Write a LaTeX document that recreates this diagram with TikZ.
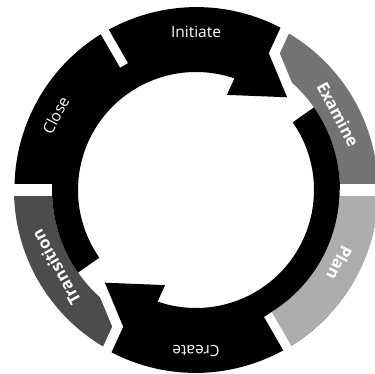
\documentclass[tikz,border=0pt]{standalone}
\usepackage{fontspec}
\setmainfont{Open Sans}
\usepackage{tikz}
\newcommand{\cyclearrow}{(215:118) arc[start angle=215, end angle=71, radius=118]
  -- (72:100) -- (45.5:130) -- (62:155) -- (62.5:183)
  arc[start angle=62.5, end angle=180, radius=182]
  -- (180:144) arc[start angle=180, end angle=215, radius=144] -- cycle}
\newcommand{\headedge}{(62.5:200) -- (62.5:183) -- (62:155) -- (45.5:130)}
\tikzset{
  segexam/.style={fill=black!55},
  segplan/.style={fill=black!32},
  segtrans/.style={fill=black!70},
  headgap/.style={draw=white, line width=20pt, line join=round},
  gapbar/.style={fill=white},
  lbl/.style={font=\fontsize{15.5}{18}\selectfont, text=white, inner sep=0pt},
  lblb/.style={lbl, font=\bfseries\fontsize{16.5}{19}\selectfont},
}

\begin{document}
\begin{tikzpicture}[x=1pt, y=1pt]
  \useasboundingbox (-196,-184) rectangle (179,190);
  \clip (-196,-184) rectangle (179,190);
  % grey parts of the ring, under the heads
  \fill[segexam] (0:144) -- (0:182) arc[start angle=0, end angle=62.5, radius=182]
    -- (62.5:144) arc[start angle=62.5, end angle=0, radius=144] -- cycle;
  \fill[segtrans] (180:144) -- (180:182) arc[start angle=180, end angle=242.5, radius=182]
    -- (242.5:144) arc[start angle=242.5, end angle=180, radius=144] -- cycle;
  % the two arrows
  \begin{scope}[rotate=0]
    \draw[headgap] \headedge;
    \fill \cyclearrow;
  \end{scope}
  \begin{scope}[rotate=180]
    \draw[headgap] \headedge;
    \fill \cyclearrow;
  \end{scope}
  \fill[segplan] (-60:143.5) -- (-60:182.5) arc[start angle=-60, end angle=0, radius=182.5]
    -- (0:143.5) arc[start angle=0, end angle=-60, radius=143.5] -- cycle;
  % white gaps
  \fill[gapbar, rotate=0] (144,-6) rectangle (200,6);
  \fill[gapbar, rotate=120] (144,-4.5) rectangle (200,4.5);
  \fill[gapbar, rotate=180] (144,-6) rectangle (200,6);
  \fill[gapbar, rotate=300] (144,-4.5) rectangle (200,4.5);
  % labels
  \node[lbl] (initiate) at (90:158) {Initiate};
  \node[lblb, rotate=-62] (examine) at (28:161) {Examine};
  \node[lblb, rotate=-117] (plan) at (-27:161) {Plan};
  \node[lbl, rotate=180] (create) at (270:161) {Create};
  \node[lblb, rotate=119] (transition) at (209:160) {Transition};
  \node[lbl, rotate=62] (close) at (152:159) {Close};
\end{tikzpicture}
\end{document}
